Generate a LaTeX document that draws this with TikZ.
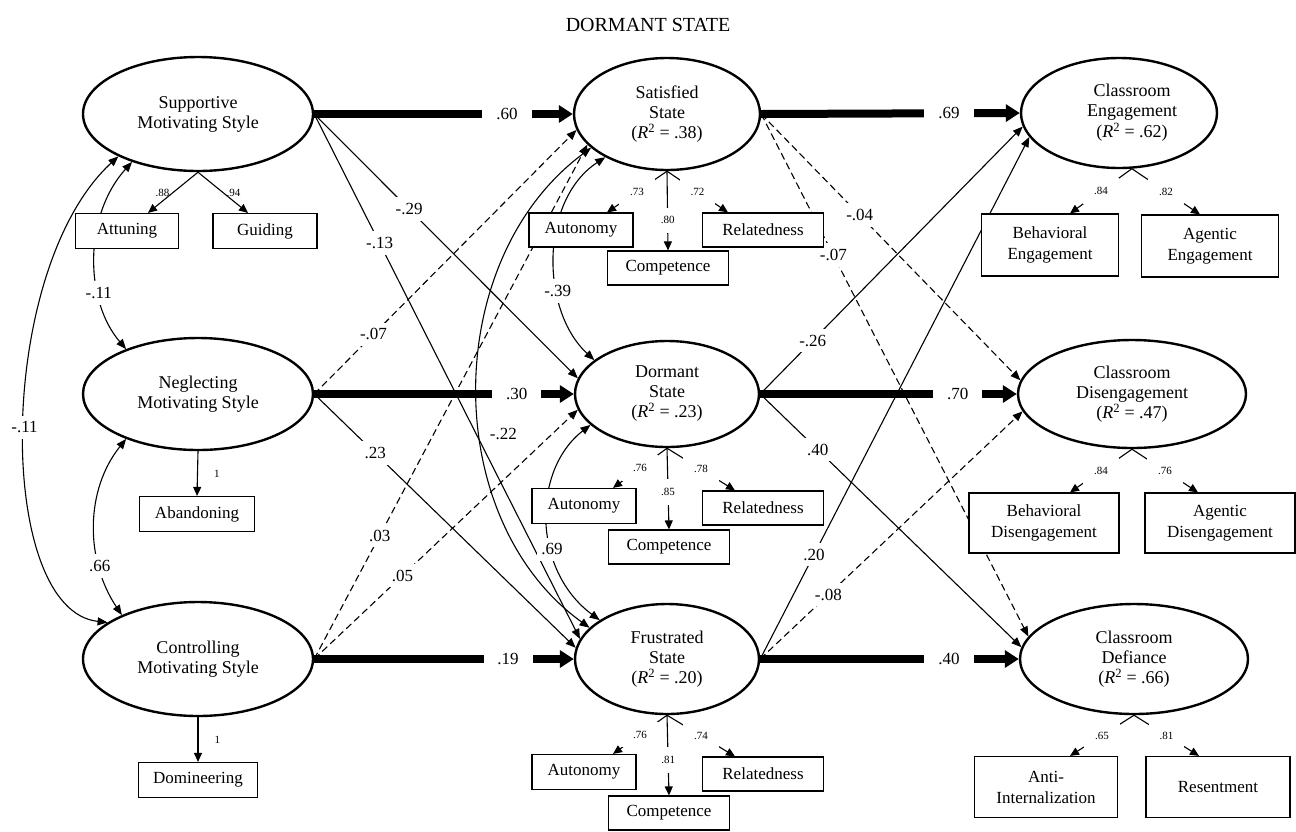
\documentclass[tikz,border=0pt]{standalone}
\usepackage{fontspec}
\setmainfont{Liberation Serif}
\usetikzlibrary{shapes.geometric,arrows.meta,calc}
\pgfdeclarelayer{background}
\pgfsetlayers{background,main}
\begin{document}
\begin{tikzpicture}[x=1pt,y=-1pt,
 lat/.style={ellipse, draw, line width=2.4pt, fill=white, inner sep=0pt, align=center, font=\fontsize{18}{20}\selectfont},
 obs/.style={rectangle, draw, line width=1.2pt, fill=white, inner sep=0pt, align=center, font=\fontsize{17}{21}\selectfont},
 heavy/.style={line width=8pt, -{Triangle[length=14pt,width=17pt]}},
 conn/.style={line width=1.1pt, -{Triangle[length=10pt,width=8pt]}},
 dconn/.style={conn, dash pattern=on 7pt off 4pt},
 cov/.style={line width=1.1pt, {Triangle[length=10pt,width=8pt]}-{Triangle[length=10pt,width=8pt]}},
 ind/.style={line width=1.1pt, -{Triangle[length=9pt,width=8pt]}},
 hlab/.style={fill=white, inner xsep=14pt, inner ysep=5pt, font=\fontsize{17}{20}\selectfont},
 plab/.style={fill=white, inner xsep=4pt, inner ysep=6pt, font=\fontsize{17}{20}\selectfont},
 slab/.style={fill=white, inner xsep=11pt, inner ysep=9pt, font=\fontsize{11}{13}\selectfont},
 vlab/.style={fill=white, inner xsep=3pt, inner ysep=9pt, font=\fontsize{11}{13}\selectfont},
 nlab/.style={font=\fontsize{11}{13}\selectfont, inner sep=1pt},
]
\useasboundingbox (0,0) rectangle (1296,831);

\node[font=\fontsize{20}{23}\selectfont] (title) at (648,25) {DORMANT STATE};

% latent variables
\node[lat, minimum width=230pt, minimum height=114pt] (Sup) at (198,114) {Supportive\\Motivating Style};
\node[lat, minimum width=230pt, minimum height=112pt] (Neg) at (198,394) {Neglecting\\Motivating Style};
\node[lat, minimum width=230pt, minimum height=114pt] (Con) at (198,659) {Controlling\\Motivating Style};
\node[lat, minimum width=186pt, minimum height=112pt] (Sat) at (667,114) {Satisfied\\State\\({\itshape R}\textsuperscript{2} = .38)};
\node[lat, minimum width=184pt, minimum height=106pt] (Dor) at (667,394) {Dormant\\State\\({\itshape R}\textsuperscript{2} = .23)};
\node[lat, minimum width=184pt, minimum height=110pt] (Fru) at (667,659) {Frustrated\\State\\({\itshape R}\textsuperscript{2} = .20)};
\node[lat, minimum width=196pt, minimum height=110pt] (Eng) at (1119,113) {\begin{tabular}{@{\hspace{26pt}}c@{}}Classroom\\Engagement\\({\itshape R}\textsuperscript{2} = .62)\end{tabular}};
\node[lat, minimum width=228pt, minimum height=108pt] (Dis) at (1132,394) {Classroom\\Disengagement\\({\itshape R}\textsuperscript{2} = .47)};
\node[lat, minimum width=228pt, minimum height=110pt] (Def) at (1134,659) {Classroom\\Defiance\\({\itshape R}\textsuperscript{2} = .66)};

% observed indicators
\node[obs, minimum width=103pt, minimum height=35pt] (Att) at (127,231) {Attuning};
\node[obs, minimum width=104pt, minimum height=35pt] (Gui) at (265,231) {Guiding};
\node[obs, minimum width=115pt, minimum height=35pt] (Aba) at (197,514) {Abandoning};
\node[obs, minimum width=119pt, minimum height=35pt] (Dom) at (198,780) {Domineering};

\node[obs, minimum width=104pt, minimum height=34pt] (Aut1) at (581,230) {Autonomy};
\node[obs, minimum width=121pt, minimum height=34pt] (Comp1) at (668,268) {Competence};
\node[obs, minimum width=121pt, minimum height=34pt] (Rel1) at (763,230) {Relatedness};
\node[obs, minimum width=104pt, minimum height=35pt] (Aut2) at (584,506) {Autonomy};
\node[obs, minimum width=121pt, minimum height=34pt] (Comp2) at (669,547) {Competence};
\node[obs, minimum width=121pt, minimum height=34pt] (Rel2) at (763,508) {Relatedness};
\node[obs, minimum width=104pt, minimum height=35pt] (Aut3) at (584,772) {Autonomy};
\node[obs, minimum width=121pt, minimum height=34pt] (Comp3) at (669,813) {Competence};
\node[obs, minimum width=121pt, minimum height=34pt] (Rel3) at (763,774) {Relatedness};

\node[obs, minimum width=137pt, minimum height=62pt] (BE) at (1050,245) {Behavioral\\Engagement};
\node[obs, minimum width=137pt, minimum height=62pt] (AE) at (1210,246) {Agentic\\Engagement};
\node[obs, minimum width=150pt, minimum height=60pt] (BD) at (1044,523) {Behavioral\\Disengagement};
\node[obs, minimum width=150pt, minimum height=60pt] (AD) at (1220,523) {Agentic\\Disengagement};
\node[obs, minimum width=143pt, minimum height=61pt] (Anti) at (1046,787) {Anti-\\Internalization};
\node[obs, minimum width=144pt, minimum height=61pt] (Res) at (1218,787) {Resentment};

\begin{pgfonlayer}{background}
% heavy paths
\draw[heavy] (Sup.east) -- node[hlab,pos=.746]{.60} (Sat.west);
\draw[heavy] (Neg.east) -- node[hlab,pos=.78]{.30} (Dor.west);
\draw[heavy] (Con.east) -- node[hlab,pos=.747]{.19} (Fru.west);
\draw[heavy] (Sat.east) -- node[hlab,pos=.726]{.69} (Eng.west);
\draw[heavy] (Dor.east) -- node[hlab,pos=.77]{.70} (Dis.west);
\draw[heavy] (Fru.east) -- node[hlab,pos=.73]{.40} (Def.west);

% thin paths
\draw[conn] (Sup.east) -- node[plab,pos=.36]{-.29} (Dor.170);
\draw[conn] (Sup.east) -- node[plab,pos=.246]{-.13} (Fru.167);
\draw[dconn] (Neg.east) -- node[plab,pos=.226]{-.07} (Sat.190);
\draw[conn] (Neg.east) -- node[plab,pos=.233]{.23} (Fru.173);
\draw[dconn] (Con.east) -- node[plab,pos=.24]{.03} (Sat.201);
\draw[dconn] (Con.east) -- node[plab,pos=.335]{.05} (Dor.190);
\draw[dconn] (Sat.east) -- node[plab,pos=.38]{-.04} (Dis.173);
\draw[dconn] (Sat.east) -- node[plab,pos=.27]{-.07} (Def.168);
\draw[conn] (Dor.east) -- node[plab,pos=.2]{-.26} (Eng.188);
\draw[conn] (Dor.east) -- node[plab,pos=.22]{.40} (Def.174);
\draw[conn] (Fru.east) -- node[plab,pos=.2]{.20} (Eng.195);
\draw[dconn] (Fru.east) -- node[plab,pos=.26]{-.08} (Dis.189);

% covariances
\draw[cov] (Sat.215) .. controls (540,200) and (540,310) .. node[plab,pos=.65]{-.39} (Dor.155);
\draw[cov] (Dor.202) .. controls (532,470) and (532,570) .. node[plab,pos=.63]{.69} (Fru.150);
\draw[cov] (Sat.204) .. controls (440,260) and (440,520) .. node[plab,pos=.58,xshift=23pt]{-.22} (Fru.158);
\draw[cov] (Sup.216) .. controls (84,215) and (84,300) .. node[plab,pos=.68]{-.11} (Neg.148);
\draw[cov] (Neg.212) .. controls (85,490) and (85,560) .. node[plab,pos=.72]{.66} (Con.150);
\draw[cov] (Sup.208) .. controls (-5,270) and (-5,610) .. node[plab,pos=.5]{-.11} (Con.158);

% loadings
\draw[ind] (Sup.south) -- node[nlab,pos=.5,left=2pt]{.88} ($(Att.north)+(21,0)$);
\draw[ind] (Sup.south) -- node[nlab,pos=.5,right=2pt]{.94} ($(Gui.north)+(-17,0)$);
\draw[ind] (Neg.south) -- node[nlab,pos=.5,right=15pt]{1} (Aba.north);
\draw[ind] (Con.south) -- node[nlab,pos=.5,right=15pt]{1} (Dom.north);

\draw[ind] (Sat.south) -- node[slab]{.73} ($(Aut1.north)+(26,0)$);
\draw[ind] (Sat.south) -- node[slab]{.72} ($(Rel1.north)+(-35,0)$);
\draw[ind] (Sat.south) -- node[vlab,pos=.62]{.80} (Comp1.north);

\draw[ind] (Dor.south) -- node[slab]{.76} ($(Aut2.north)+(29,0)$);
\draw[ind] (Dor.south) -- node[slab]{.78} ($(Rel2.north)+(-28,0)$);
\draw[ind] (Dor.south) -- node[vlab,pos=.54]{.85} (Comp2.north);

\draw[ind] (Fru.south) -- node[slab]{.76} ($(Aut3.north)+(29,0)$);
\draw[ind] (Fru.south) -- node[slab]{.74} ($(Rel3.north)+(-28,0)$);
\draw[ind] (Fru.south) -- node[vlab,pos=.56]{.81} (Comp3.north);

\draw[ind] (Eng.283) -- node[slab]{.84} ($(BE.north)+(20,0)$);
\draw[ind] (Eng.283) -- node[slab]{.82} ($(AE.north)+(-10,0)$);
\draw[ind] (Dis.south) -- node[slab]{.84} ($(BD.north)+(26,0)$);
\draw[ind] (Dis.south) -- node[slab]{.76} ($(AD.north)+(-22,0)$);
\draw[ind] (Def.south) -- node[slab]{.65} ($(Anti.north)+(24,0)$);
\draw[ind] (Def.south) -- node[slab]{.81} ($(Res.north)+(-19,0)$);
\end{pgfonlayer}
\end{tikzpicture}
\end{document}
